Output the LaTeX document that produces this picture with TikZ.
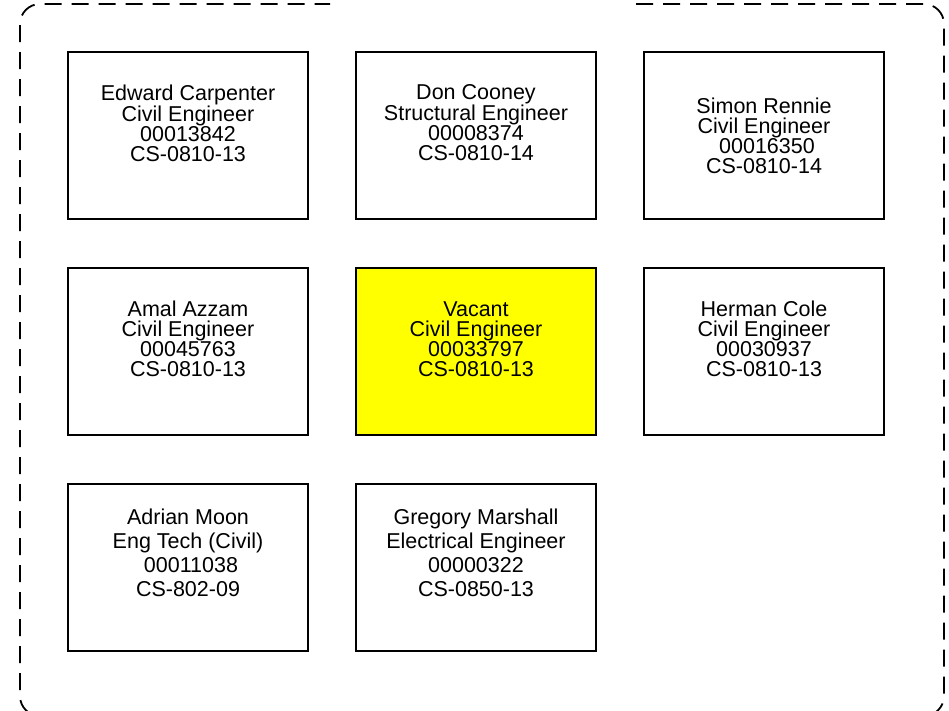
\documentclass[tikz,border=0pt]{standalone}
\usepackage{fontspec}
\setmainfont{Liberation Sans}
\usepackage{xcolor}
\usepackage{tikz}
\usetikzlibrary{positioning}
\definecolor{vacantyellow}{RGB}{255,255,0}
\tikzset{
  staffbox/.style={draw=black, line width=1.6pt, minimum width=240pt, minimum height=167pt, inner sep=0pt},
  vacantbox/.style={staffbox, fill=vacantyellow},
  stafftext/.style={align=center, font=\fontsize{21.5}{20}\selectfont, inner sep=0pt},
  loosetext/.style={align=center, font=\fontsize{21.5}{24}\selectfont, inner sep=0pt},
}

\begin{document}
\begin{tikzpicture}[x=1pt, y=-1pt]
\useasboundingbox (0,0) rectangle (949,710);
\draw [line width=1.8pt, dash pattern=on 17pt off 10pt, rounded corners=20pt] (636,4) -- (944,4) -- (944,716) -- (20,716) -- (20,4) -- (330,4);
% first row
\node [staffbox] (ecarp) at (188,135.5) {};
\node [staffbox] (dcoon) at (476,135.5) {};
\node [staffbox] (srenn) at (764,135.5) {};
\node [stafftext] (ecarp-t) at (188,123) {Edward Carpenter\\Civil Engineer\\00013842\\CS-0810-13};
\node [stafftext] (dcoon-t) at (476,123) {Don Cooney\\Structural Engineer\\00008374\\CS-0810-14};
\node [stafftext] (srenn-t) at (764,136) {Simon Rennie\\Civil Engineer\\\ 00016350\\CS-0810-14};
% second row
\node [staffbox] (aazza) at (188,351.5) {};
\node [vacantbox] (vacant) at (476,351.5) {};
\node [staffbox] (hcole) at (764,351.5) {};
\node [stafftext] (aazza-t) at (188,339) {Amal Azzam\\Civil Engineer\\00045763\\CS-0810-13};
\node [stafftext] (vacant-t) at (476,339) {Vacant\\Civil Engineer\\00033797\\CS-0810-13};
\node [stafftext] (hcole-t) at (764,339) {Herman Cole\\Civil Engineer\\00030937\\CS-0810-13};
% third row
\node [staffbox] (amoon) at (188,567.5) {};
\node [staffbox] (gmars) at (476,567.5) {};
\node [loosetext] (amoon-t) at (188,553) {Adrian Moon\\Eng Tech (Civil)\\\ 00011038\\CS-802-09};
\node [loosetext] (gmars-t) at (476,553) {Gregory Marshall\\Electrical Engineer\\00000322\\CS-0850-13};
\end{tikzpicture}
\end{document}
